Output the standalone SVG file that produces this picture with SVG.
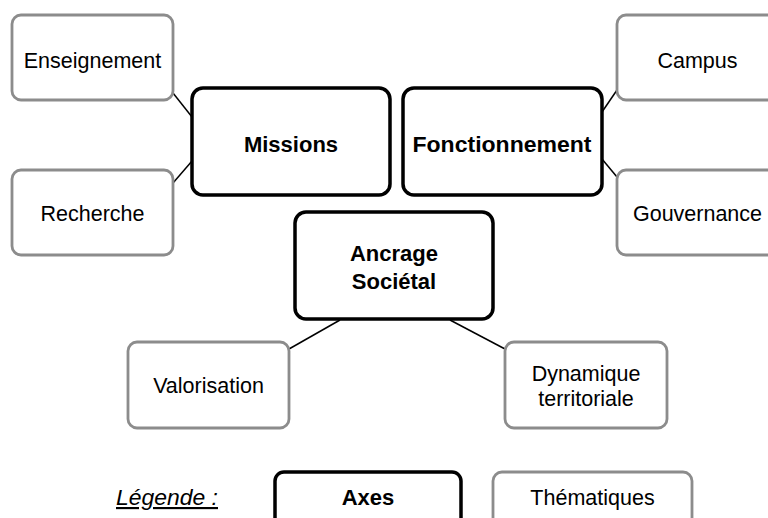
<svg xmlns="http://www.w3.org/2000/svg" width="768" height="518" viewBox="0 0 768 518">
<style>
.axe{fill:#fff;stroke:#000;stroke-width:3.5}
.th{fill:#fff;stroke:#8c8c8c;stroke-width:2.8}
text{font-family:"Liberation Sans",Arial,sans-serif;font-size:21.5px;fill:#000;text-anchor:middle}
.b{font-weight:bold;font-size:22px}
.leg{font-style:italic;text-anchor:start;text-decoration:underline}
#connectors line{stroke:#000;stroke-width:1.5}
</style>
<rect width="768" height="518" fill="#fff"/>
<g id="connectors">
<line x1="173" y1="93" x2="192" y2="117"/>
<line x1="173" y1="183" x2="192" y2="161"/>
<line x1="602" y1="112" x2="617" y2="90"/>
<line x1="602" y1="159" x2="617" y2="177"/>
<line x1="340" y1="320" x2="289" y2="349"/>
<line x1="450" y1="320" x2="505" y2="349"/>
</g>
<g id="enseignement"><rect class="th" x="12" y="15" width="161" height="85" rx="9"/><text x="92.5" y="68">Enseignement</text></g>
<g id="recherche"><rect class="th" x="12" y="170" width="161" height="85" rx="9"/><text x="92.5" y="221">Recherche</text></g>
<g id="missions"><rect class="axe" x="192" y="88" width="198" height="107" rx="11"/><text class="b" x="291" y="152">Missions</text></g>
<g id="fonctionnement"><rect class="axe" x="403" y="88" width="199" height="107" rx="11"/><text class="b" x="502" y="152" textLength="179" lengthAdjust="spacingAndGlyphs">Fonctionnement</text></g>
<g id="campus"><rect class="th" x="617" y="15" width="161" height="85" rx="9"/><text x="697.5" y="68">Campus</text></g>
<g id="gouvernance"><rect class="th" x="617" y="170" width="161" height="85" rx="9"/><text x="697.5" y="221">Gouvernance</text></g>
<g id="ancrage"><rect class="axe" x="295" y="212" width="198" height="107" rx="11"/><text class="b" x="394" y="261">Ancrage</text><text class="b" x="394" y="289">Sociétal</text></g>
<g id="valorisation"><rect class="th" x="128" y="342" width="161" height="86" rx="9"/><text x="208.5" y="393">Valorisation</text></g>
<g id="dynamique"><rect class="th" x="505" y="342" width="162" height="86" rx="9"/><text x="586" y="381">Dynamique</text><text x="586" y="406">territoriale</text></g>
<g id="legende"><text class="leg" x="116" y="505" textLength="102" lengthAdjust="spacingAndGlyphs">Légende :</text></g>
<g id="axes"><rect class="axe" x="275" y="472" width="186" height="70" rx="9"/><text class="b" x="368" y="505">Axes</text></g>
<g id="thematiques"><rect class="th" x="493" y="472" width="199" height="70" rx="9"/><text x="592.5" y="505">Thématiques</text></g>
</svg>
